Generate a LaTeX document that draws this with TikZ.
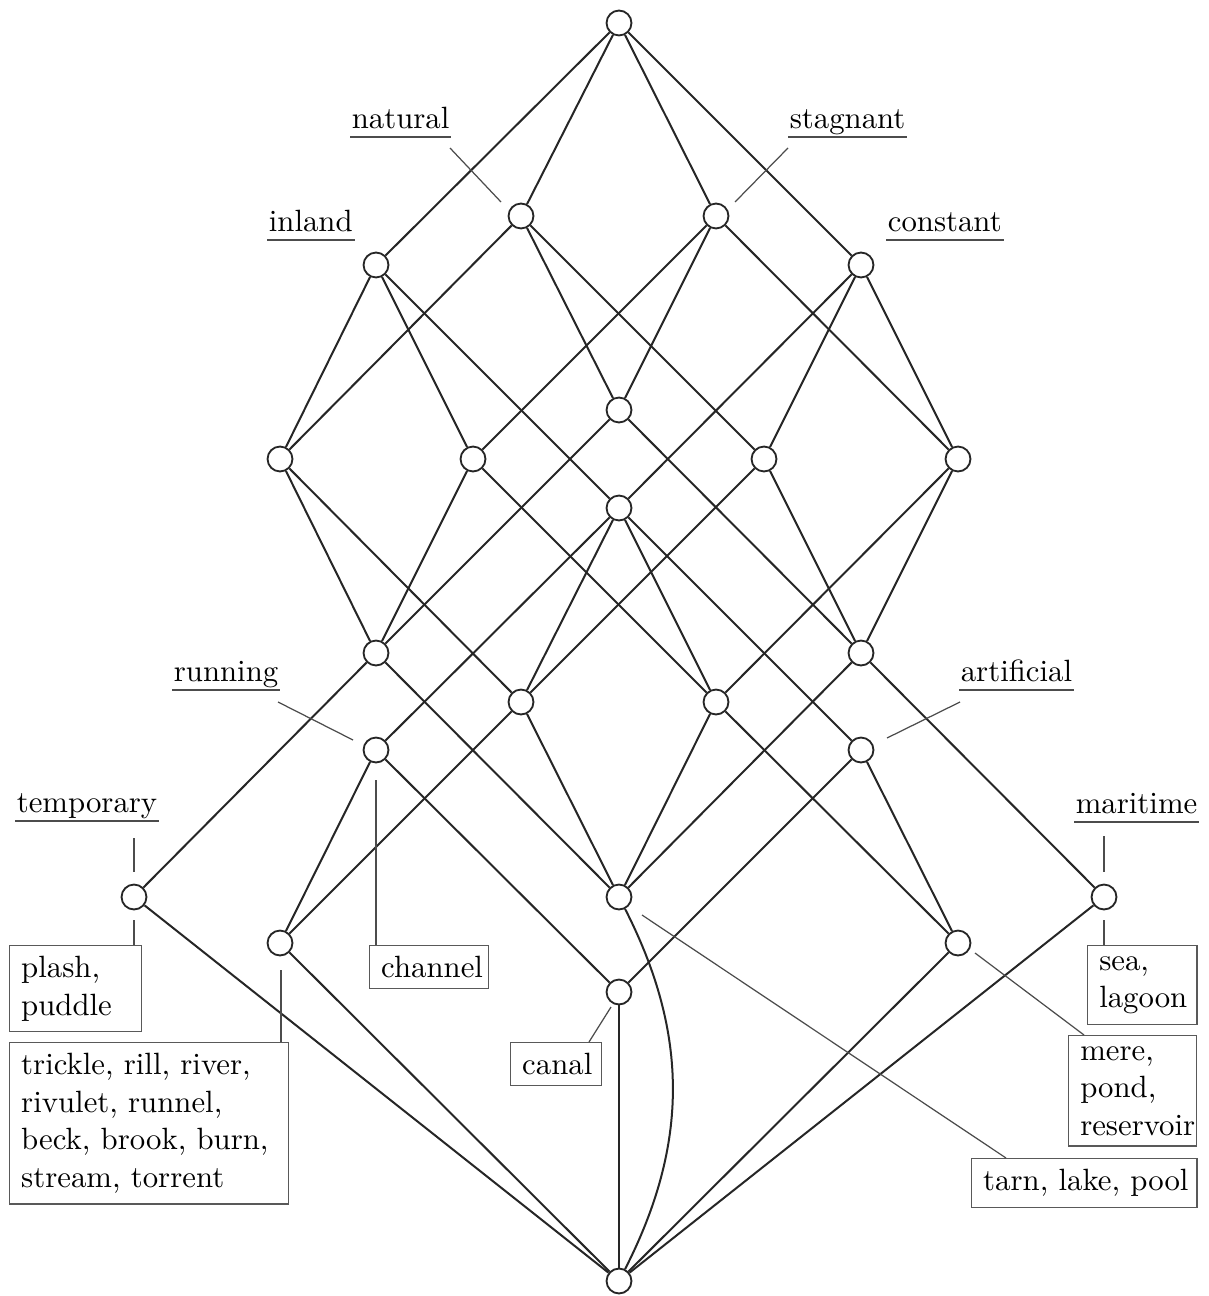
\documentclass[tikz,border=0pt]{standalone}
\usetikzlibrary{backgrounds}
\hyphenpenalty=10000
\exhyphenpenalty=10000
\begin{document}
\begin{tikzpicture}[x=0.325pt,y=-0.325pt,
  vtx/.style={circle,draw=black!85,line width=0.6pt,fill=white,minimum size=8.1pt,inner sep=0pt},
  edge/.style={line width=0.65pt,black!85},
  lead/.style={line width=0.4pt,black!70},
  uline/.style={line width=0.55pt,black!70},
  attr/.style={font=\fontsize{10}{12.2}\selectfont,text depth=0pt,inner xsep=0.4pt,inner ysep=2.45pt,anchor=south west,
     append after command={\pgfextra{\let\attrnode\tikzlastnode}
        (\attrnode.south west) edge[uline] (\attrnode.south east)}},
  objbox/.style={draw=black!65,line width=0.45pt,anchor=north west,align=left,
     inner xsep=3.75pt,inner ysep=3.45pt,font=\fontsize{10}{12.2}\selectfont}
]
\useasboundingbox (0,0) rectangle (1208,1296);

% lattice vertices
\node[vtx] (T)   at (619,23)  {};
\node[vtx] (N)   at (521,216) {};
\node[vtx] (S)   at (716,216) {};
\node[vtx] (I)   at (376,265) {};
\node[vtx] (C)   at (861,265) {};
\node[vtx] (M1)  at (619,410) {};
\node[vtx] (A1)  at (280,459) {};
\node[vtx] (A2)  at (473,459) {};
\node[vtx] (A3)  at (764,459) {};
\node[vtx] (A4)  at (958,459) {};
\node[vtx] (M2)  at (619,508) {};
\node[vtx] (B1)  at (376,653) {};
\node[vtx] (B4)  at (861,653) {};
\node[vtx] (B2)  at (521,702) {};
\node[vtx] (B3)  at (716,702) {};
\node[vtx] (R)   at (376,750) {};
\node[vtx] (Ar)  at (861,750) {};
\node[vtx] (Tm)  at (134,897) {};
\node[vtx] (Mid) at (619,897) {};
\node[vtx] (Ma)  at (1104,897) {};
\node[vtx] (D1)  at (280,943) {};
\node[vtx] (D4)  at (958,943) {};
\node[vtx] (Ca)  at (619,992) {};
\node[vtx] (Bot) at (619,1281) {};

\begin{scope}[on background layer]
\foreach \a/\b in {T/I,T/N,T/S,T/C,
  I/A1,I/A2,I/M2, N/A1,N/M1,N/A3, S/A2,S/M1,S/A4, C/M2,C/A3,C/A4,
  A1/B1,A2/B1,M1/B1, M1/B4,A3/B4,A4/B4, A1/B2,M2/B2,A3/B2, A2/B3,M2/B3,A4/B3,
  M2/R,M2/Ar, B1/Tm,B4/Ma, B1/Mid,B2/Mid,B3/Mid,B4/Mid,
  R/D1,B2/D1, Ar/D4,B3/D4, R/Ca,Ar/Ca,
  Tm/Bot,D1/Bot,Ca/Bot,D4/Bot,Ma/Bot}
  \draw[edge] (\a) -- (\b);
\draw[edge] (Mid) to[bend left=27] (Bot);
\end{scope}

% attribute labels
\node[attr] (lnat)  at (350,137) {natural};
\node[attr] (lstag) at (788,137) {stagnant};
\node[attr] (linl)  at (267,240) {inland};
\node[attr] (lcon)  at (886,240) {constant};
\node[attr] (lrun)  at (172,690) {running};
\node[attr] (lart)  at (959,690) {artificial};
\node[attr] (ltmp)  at (15,821)  {temporary};
\node[attr] (lmar)  at (1074,822) {maritime};

% object boxes
\node[objbox,text width=35.4pt] (bplash) at (9,945) {plash,\\puddle};
\node[objbox,text width=83.2pt] (btrick) at (9,1042)
  {trickle,~rill,~river,\\rivulet,~runnel,\\beck,~brook,~burn,\\stream,~torrent};
\node[objbox,text width=31.2pt] (bchan) at (369,945) {channel};
\node[objbox,text width=22.1pt] (bcanal) at (510,1042) {canal};
\node[objbox,text width=28pt] (bsea) at (1087,945) {sea,\\lagoon};
\node[objbox,text width=34.1pt] (bmere) at (1068,1035) {mere,\\pond,\\reservoir};
\node[objbox,text width=65.7pt] (btarn) at (971,1158) {tarn,~lake,~pool};

% leader lines
\coordinate (natA) at (450,148); \coordinate (natB) at (501,202);
\coordinate (stgA) at (788,148); \coordinate (stgB) at (735,202);
\coordinate (runA) at (278,702); \coordinate (runB) at (353,740);
\coordinate (artA) at (960,702); \coordinate (artB) at (887,738);
\coordinate (tmpA) at (134,838); \coordinate (tmpB) at (134,872);
\coordinate (marA) at (1104,836); \coordinate (marB) at (1104,872);
\coordinate (tmpC) at (134,920);
\coordinate (marC) at (1104,920);
\coordinate (d1C)  at (281,970);
\coordinate (rC)   at (376,780);
\coordinate (caC)  at (611,1007);
\coordinate (d4C)  at (975,953);
\coordinate (midC) at (642,915);

\draw[lead] (natA) -- (natB);
\draw[lead] (stgA) -- (stgB);
\draw[lead] (runA) -- (runB);
\draw[lead] (artA) -- (artB);
\draw[lead] (tmpA) -- (tmpB);
\draw[lead] (marA) -- (marB);
\draw[lead] (tmpC) -- (tmpC |- bplash.north);
\draw[lead] (marC) -- (marC |- bsea.north);
\draw[lead] (d1C) -- (d1C |- btrick.north);
\draw[lead] (rC) -- (rC |- bchan.north);
\draw[lead] (caC) -- (589,1042);
\draw[lead] (d4C) -- (1084,1035);
\draw[lead] (midC) -- (1006,1158);
\end{tikzpicture}
\end{document}
